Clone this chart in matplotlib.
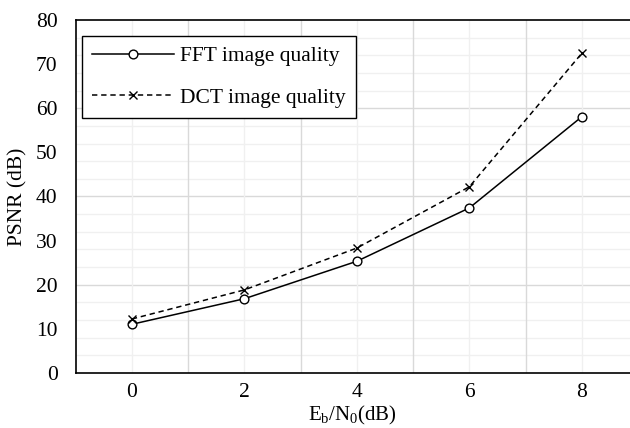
import numpy as np
import matplotlib.pyplot as plt
from matplotlib.ticker import MultipleLocator, FixedLocator

plt.rcParams['font.family'] = ['Liberation Serif', 'DejaVu Serif']
plt.rcParams['mathtext.fontset'] = 'custom'
plt.rcParams['mathtext.rm'] = 'Liberation Serif'
plt.rcParams['mathtext.it'] = 'Liberation Serif:italic'

# data
ebn0 = [0, 2, 4, 6, 8]
fft_psnr = [11.0, 16.8, 25.3, 37.4, 58.1]
dct_psnr = [12.2, 18.8, 28.3, 42.2, 72.5]

fig = plt.figure(figsize=(6.3, 4.28), dpi=100)
ax = fig.add_axes([0.120, 0.129, 0.880, 0.824])

ax.set_xlim(-1, 8.855)
ax.set_ylim(0, 80)

# gridlines: darker every 20 / at odd x, lighter every 4 / at even x
for y in np.arange(4, 80, 4):
    c = '#d9d9d9' if y % 20 == 0 else '#f0f0f0'
    ax.axhline(y, color=c, lw=1.0, zorder=0)
for x in range(0, 9):
    c = '#d9d9d9' if x % 2 == 1 else '#f0f0f0'
    ax.axvline(x, color=c, lw=1.0, zorder=0)

ax.plot(ebn0, fft_psnr, color='black', lw=1.1, marker='o', ms=6.3,
        mfc='white', mec='black', mew=1.0, label='FFT image quality', zorder=3)
ax.plot(ebn0, dct_psnr, color='black', lw=1.1, ls=(0, (3.5, 2.5)), marker='x',
        ms=6.0, mew=1.0, label='DCT image quality', zorder=3)

ax.xaxis.set_major_locator(FixedLocator(ebn0))
ax.yaxis.set_major_locator(MultipleLocator(10))
ax.tick_params(axis='both', length=0, labelsize=15.5)
ax.tick_params(axis='y', pad=13)
ax.tick_params(axis='x', pad=7.5)

for s in ['left', 'bottom', 'top']:
    ax.spines[s].set_color('black')
    ax.spines[s].set_linewidth(1.2)
ax.spines['right'].set_visible(False)

ax.set_ylabel('PSNR (dB)', fontsize=15.5)
ax.yaxis.set_label_coords(-0.087, 0.5)
ax.set_xlabel(r'$\mathregular{E_b/N_0}$(dB)', fontsize=15)
ax.xaxis.label.set_va('bottom')
ax.xaxis.set_label_coords(0.56, 1.0 / 428, transform=fig.transFigure)

leg = ax.legend(loc='upper left', bbox_to_anchor=(81.7 / 630, 1 - 35.7 / 428),
                bbox_transform=fig.transFigure, fontsize=15.5, frameon=True,
                fancybox=False, edgecolor='black', framealpha=1,
                labelspacing=1.0, handlelength=3.8, handletextpad=0.3,
                borderpad=0.48, borderaxespad=0)
leg.get_frame().set_linewidth(1.0)

fig.savefig('out.png', dpi=100)
